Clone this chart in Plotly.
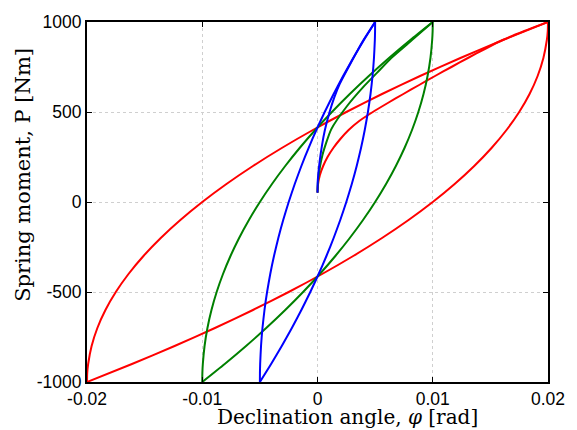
import plotly.graph_objects as go

# ---- data (phi [rad], P [Nm]) ----
# load levels for the loop branches
P_up = [-1000, -950, -900, -800, -700, -600, -500, -400, -300, -200, -100,
        0, 100, 200, 300, 400, 500, 600, 700, 800, 900, 1000]
P_down = [1000, 950, 900, 800, 700, 600, 500, 400, 300, 200, 100,
          0, -100, -200, -300, -400, -500, -600, -700, -800, -900, -1000]

# red loop (amplitude 0.02)
red_asc_phi = [-0.02, -0.01998, -0.0199, -0.0196, -0.0191, -0.0184, -0.0175, -0.0164, -0.0151, -0.0136, -0.0119,
               -0.01, -0.0079, -0.0056, -0.0031, -0.0004, 0.0025, 0.0056, 0.0089, 0.0124, 0.0161, 0.02]
red_desc_phi = [0.02, 0.01998, 0.0199, 0.0196, 0.0191, 0.0184, 0.0175, 0.0164, 0.0151, 0.0136, 0.0119,
                0.01, 0.0079, 0.0056, 0.0031, 0.0004, -0.0025, -0.0056, -0.0089, -0.0124, -0.0161, -0.02]
red_init_P = [52, 100, 150, 200, 250, 300, 350, 400, 450, 500, 550, 600, 650, 700, 750, 800, 850, 900, 950, 1000]
red_init_phi = [0, 0.00005, 0.00021, 0.00049, 0.00087, 0.00137, 0.00198, 0.0027, 0.00362, 0.0048, 0.0061,
                0.00745, 0.00882, 0.0102, 0.01162, 0.01305, 0.01452, 0.01606, 0.01795, 0.02]

# green loop (amplitude 0.01)
green_asc_phi = [-0.01, -0.00999, -0.00995, -0.0098, -0.00955, -0.0092, -0.00875, -0.0082, -0.00755, -0.0068, -0.00595,
                 -0.005, -0.00395, -0.0028, -0.00155, -0.0002, 0.00125, 0.0028, 0.00445, 0.0062, 0.00805, 0.01]
green_desc_phi = [0.01, 0.00999, 0.00995, 0.0098, 0.00955, 0.0092, 0.00875, 0.0082, 0.00755, 0.0068, 0.00595,
                  0.005, 0.00395, 0.0028, 0.00155, 0.0002, -0.00125, -0.0028, -0.00445, -0.0062, -0.00805, -0.01]
green_init_P = [52, 120, 261, 405, 532, 641, 720, 800, 905, 1000]
green_init_phi = [0, 0.00005, 0.00043, 0.00120, 0.00255, 0.0040, 0.0052, 0.0064, 0.0083, 0.01]

# blue loop (amplitude 0.005)
blue_asc_phi = [-0.005, -0.004994, -0.004975, -0.0049, -0.004775, -0.0046, -0.004375, -0.0041, -0.003775, -0.0034, -0.002975,
                -0.0025, -0.001975, -0.0014, -0.000775, -0.0001, 0.000625, 0.0014, 0.002225, 0.0031, 0.004025, 0.005]
blue_desc_phi = [0.005, 0.004994, 0.004975, 0.0049, 0.004775, 0.0046, 0.004375, 0.0041, 0.003775, 0.0034, 0.002975,
                 0.0025, 0.001975, 0.0014, 0.000775, 0.0001, -0.000625, -0.0014, -0.002225, -0.0031, -0.004025, -0.005]
blue_init_P = [52, 120, 224, 315, 400, 496, 580, 659, 786, 890, 1000]
blue_init_phi = [0, 0.000026, 0.000185, 0.00039, 0.00064, 0.00103, 0.00145, 0.00195, 0.0030, 0.0039, 0.005]

x_tickvals = [-0.02, -0.01, 0, 0.01, 0.02]
x_ticktext = ["-0.02", "-0.01", "0", "0.01", "0.02"]
y_tickvals = [-1000, -500, 0, 500, 1000]
y_ticktext = ["-1000", "-500", "0", "500", "1000"]

colors = {"red": "#ff0000", "green": "#008000", "blue": "#0000ff"}

branches = [
    ("red", red_init_phi, red_init_P), ("red", red_desc_phi, P_down), ("red", red_asc_phi, P_up),
    ("green", green_init_phi, green_init_P), ("green", green_desc_phi, P_down), ("green", green_asc_phi, P_up),
    ("blue", blue_init_phi, blue_init_P), ("blue", blue_desc_phi, P_down), ("blue", blue_asc_phi, P_up),
]

fig = go.Figure()
for c, xs, ys in branches:
    fig.add_trace(go.Scatter(x=xs, y=ys, mode="lines",
                             line=dict(color=colors[c], width=2, shape="spline", smoothing=0.6),
                             showlegend=False, hoverinfo="skip"))

tickfont = dict(family="Liberation Sans, Arial, sans-serif", size=17.5, color="black")
common = dict(showline=True, linecolor="black", linewidth=2, mirror="ticks",
              ticks="inside", ticklen=5, tickwidth=1, tickcolor="black",
              showgrid=True, gridcolor="#cfcfcf", griddash="dot", gridwidth=1,
              zeroline=False, tickfont=tickfont)

fig.update_layout(
    width=577, height=430,
    margin=dict(l=87, r=20, t=14, b=48),
    plot_bgcolor="white", paper_bgcolor="white",
    xaxis=dict(range=[-0.02, 0.02], tickvals=x_tickvals, ticktext=x_ticktext, **common),
    yaxis=dict(range=[-1000, 1000], tickvals=y_tickvals, ticktext=y_ticktext, **common),
    annotations=[
        dict(text="Declination angle, <i>φ</i> [rad]", xref="paper", yref="paper",
             x=(353 - 87) / 470, y=(382 - 418) / 368, xanchor="center", yanchor="middle",
             showarrow=False, font=dict(family="DejaVu Serif, serif", size=20, color="black")),
        dict(text="Spring moment, P [Nm]", xref="paper", yref="paper", textangle=-90,
             x=(21 - 87) / 470, y=(382 - 170) / 368, xanchor="center", yanchor="middle",
             showarrow=False, font=dict(family="DejaVu Serif, serif", size=21, color="black")),
    ],
)

fig.write_html("out.html")
